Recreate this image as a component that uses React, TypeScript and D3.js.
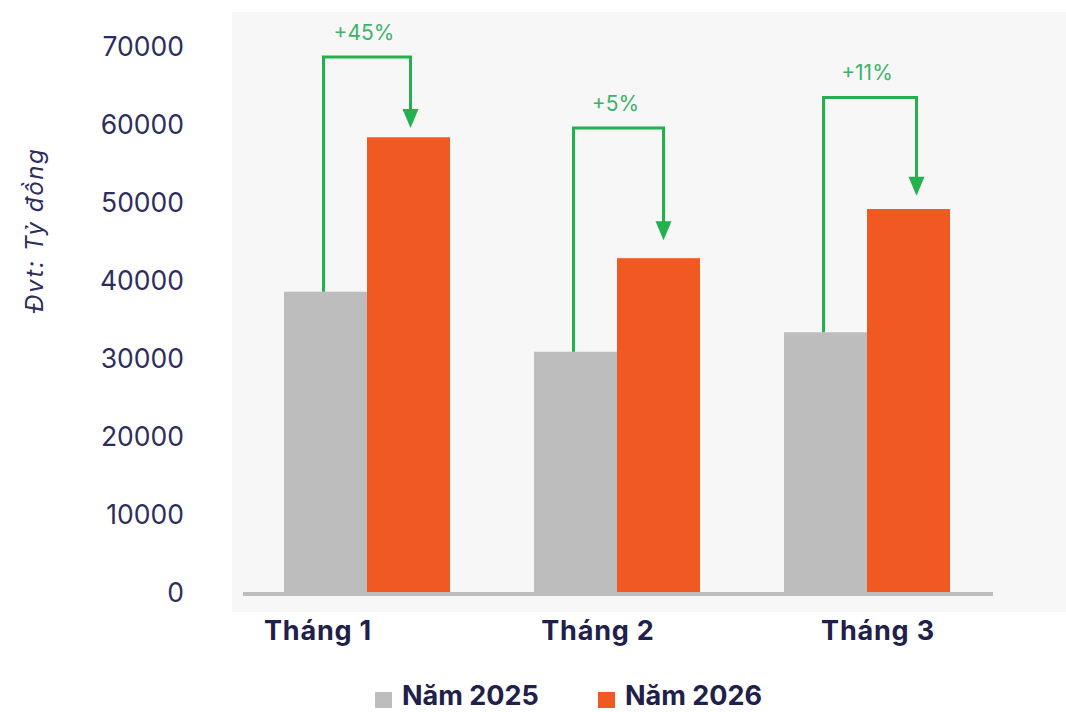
import React from "react";
import * as d3 from "d3";

const months = ["Tháng 1", "Tháng 2", "Tháng 3"];
const seriesNames = ["Năm 2025", "Năm 2026"];
const values2025 = [38500, 30800, 33300];
const values2026 = [58300, 42800, 49100];
const growthLabels = ["+45%", "+5%", "+11%"];
const bracketTop = [68600, 59500, 63400];
const arrowTip = [59500, 45100, 50800];
const yTicks = [0, 10000, 20000, 30000, 40000, 50000, 60000, 70000];
const yTitle = "Đvt: Tỷ đồng";

const W = 1066;
const H = 712;
const NAVY = "#2e2e5e";
const GRAY = "#bdbdbd";
const ORANGE = "#f05a22";
const GREEN = "#22b14c";
const GREEN_TEXT = "#3db36a";
const FONT = "Inter, 'Noto Sans', sans-serif";

export default function App() {
  const y = d3.scaleLinear().domain([0, 70000]).range([592, 46]);
  const x = d3.scaleBand<string>().domain(months).range([242, 992]).paddingInner(0.336).paddingOuter(0.168);
  const xs = d3.scaleBand<string>().domain(seriesNames).range([0, x.bandwidth()]);
  const xl = d3.scalePoint<string>().domain(months).range([318, 878]);
  const series = [values2025, values2026];
  const colors = [GRAY, ORANGE];

  return (
    <div style={{ position: "absolute", left: 0, top: 0 }}>
      <svg width={W} height={H} style={{ display: "block", background: "#ffffff" }}>
        <rect x={232} y={12} width={W - 232} height={600} fill="#f7f7f7" />
        {yTicks.map((t) => (
          <text key={t} x={184} y={y(t)} dy="0.36em" textAnchor="end" fontFamily={FONT} fontSize={26.5} fill={NAVY}>
            {t}
          </text>
        ))}
        <text
          transform={`translate(43,230) rotate(-90)`}
          textAnchor="middle"
          fontFamily={FONT}
          fontStyle="italic"
          fontSize={24}
          letterSpacing={1.6}
          fill={NAVY}
        >
          {yTitle}
        </text>
        {months.map((m, i) =>
          series.map((s, k) => (
            <rect
              key={m + k}
              x={(x(m) as number) + (xs(seriesNames[k]) as number)}
              y={y(s[i])}
              width={xs.bandwidth()}
              height={y(0) - y(s[i])}
              fill={colors[k]}
            />
          ))
        )}
        <line x1={243} x2={993} y1={594} y2={594} stroke={GRAY} strokeWidth={4} />
        {months.map((m, i) => {
          const lx = (x(m) as number) + (xs(seriesNames[0]) as number) + xs.bandwidth() / 2 - 2;
          const rx = (x(m) as number) + (xs(seriesNames[1]) as number) + xs.bandwidth() / 2 + 2 + i * 3;
          const top = y(bracketTop[i]);
          const tip = y(arrowTip[i]);
          const headH = 19;
          const headW = 8;
          return (
            <g key={m + "ann"}>
              <path
                d={`M${lx},${y(values2025[i])} L${lx},${top} L${rx},${top} L${rx},${tip - headH + 2}`}
                fill="none"
                stroke={GREEN}
                strokeWidth={3}
              />
              <path d={`M${rx - headW},${tip - headH} L${rx + headW},${tip - headH} L${rx},${tip} Z`} fill={GREEN} />
              <text
                x={(lx + rx) / 2 - 3}
                y={top - 17}
                textAnchor="middle"
                fontFamily={FONT}
                fontSize={21}
                fill={GREEN_TEXT}
              >
                {growthLabels[i]}
              </text>
            </g>
          );
        })}
        {months.map((m) => (
          <text key={m + "lbl"} x={xl(m)} y={640} textAnchor="middle" fontFamily={FONT} fontWeight={700} fontSize={27} letterSpacing={0.8} fill="#20204a">
            {m}
          </text>
        ))}
        {seriesNames.map((s, k) => (
          <g key={s} transform={`translate(${k === 0 ? 375 : 598},0)`}>
            <rect x={0} y={692} width={17} height={16} fill={colors[k]} />
            <text x={27} y={705} fontFamily={FONT} fontWeight={700} fontSize={27} fill="#20204a">
              {s}
            </text>
          </g>
        ))}
      </svg>
    </div>
  );
}
